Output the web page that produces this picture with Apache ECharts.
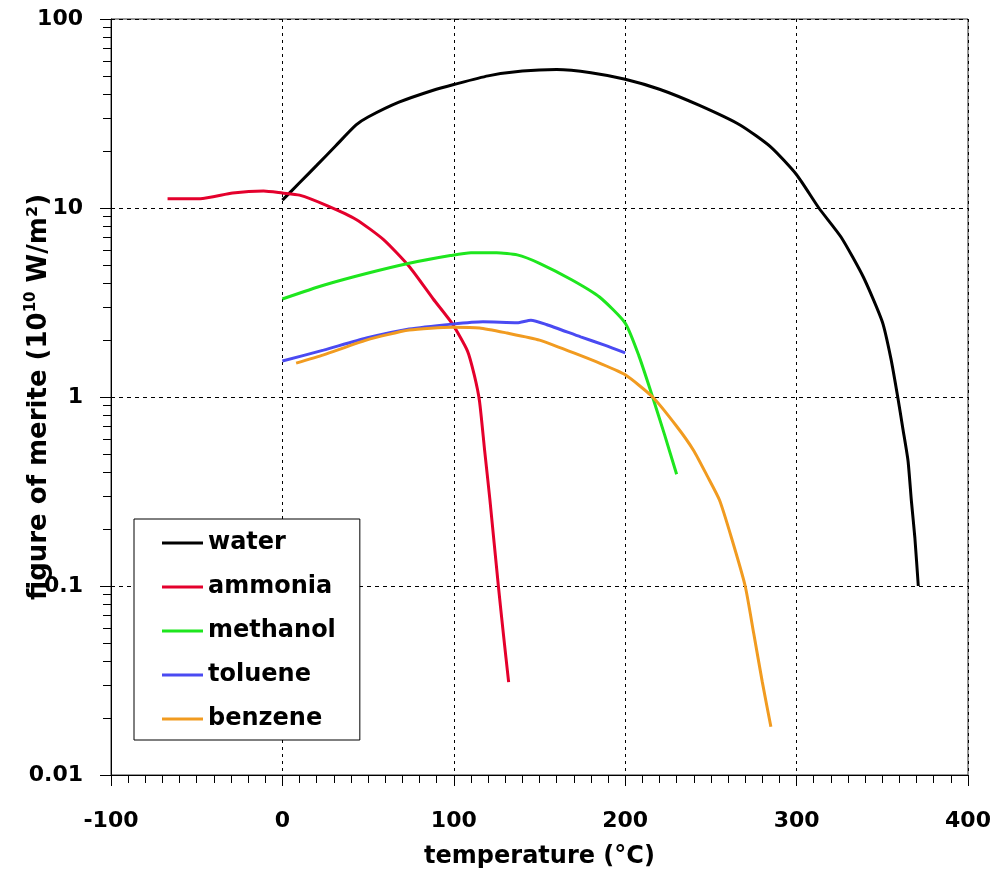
<!DOCTYPE html>
<html>
<head>
<meta charset="UTF-8">
<title>figure of merite</title>
<script src="https://cdn.jsdelivr.net/npm/echarts@6/dist/echarts.min.js"></script>
<style>
  html, body { margin: 0; padding: 0; background: #fff; }
  #main { width: 1002px; height: 886px; }
</style>
</head>
<body>
<div id="main"></div>
<script>
// temperature (°C) , figure of merite (1e10 W/m2)
var water = [[0, 11], [10, 13.6], [20, 16.8], [31, 21.3], [43, 27.5], [50, 30.3], [68, 36.3], [88, 42], [100, 45],
  [120, 50], [140, 53], [160, 54], [180, 52], [200, 48], [220, 42.5], [243, 35], [267, 27.5], [285, 21],
  [300, 15], [313, 10], [326, 7], [339, 4.3], [350, 2.5], [355, 1.6], [359, 1], [362, 0.68],
  [365, 0.46], [367, 0.28], [369, 0.18], [371, 0.1]];
var ammonia = [[-67, 11.2], [-48, 11.2], [-29, 12], [-11, 12.3], [0, 12], [10, 11.7], [26, 10.3],
  [43, 8.7], [59, 6.8], [74, 4.9], [88, 3.3], [99, 2.45], [108, 1.75], [112, 1.3], [115, 0.95],
  [118, 0.52], [121, 0.29], [126, 0.1], [129, 0.055], [132, 0.031]];
var methanol = [[0, 3.3], [24, 3.9], [49, 4.5], [74, 5.1], [98, 5.6], [110, 5.8], [125, 5.8],
  [137, 5.65], [150, 5.1], [169, 4.16], [185, 3.38], [200, 2.46], [208, 1.65], [216, 1],
  [223, 0.63], [230, 0.39]];
var toluene = [[0, 1.55], [24, 1.77], [49, 2.05], [74, 2.29], [99, 2.43], [117, 2.5], [137, 2.47],
  [145, 2.55], [154, 2.42], [174, 2.08], [188, 1.88], [200, 1.71]];
var benzene = [[8, 1.51], [24, 1.67], [49, 2.0], [74, 2.26], [99, 2.34], [115, 2.32], [131, 2.18],
  [150, 2.0], [170, 1.71], [185, 1.51], [200, 1.31], [216, 1.0], [230, 0.7], [240, 0.52],
  [248, 0.38], [255, 0.285], [262, 0.18], [270, 0.1], [275, 0.056], [280, 0.031], [285, 0.018]];

var xTicks = [-100, 0, 100, 200, 300, 400];
var yMinorTicks = [0.02, 0.03, 0.04, 0.05, 0.06, 0.07, 0.08, 0.09,
  0.2, 0.3, 0.4, 0.5, 0.6, 0.7, 0.8, 0.9,
  2, 3, 4, 5, 6, 7, 8, 9,
  20, 30, 40, 50, 60, 70, 80, 90];

var font = 'DejaVu Sans';
var myChart = echarts.init(document.getElementById('main'));

function line(name, data, color) {
  return {
    name: name,
    type: 'line',
    data: data,
    symbol: 'none',
    smooth: 0.2,
    lineStyle: { color: color, width: 3 },
    itemStyle: { color: color }
  };
}

var option = {
  backgroundColor: '#ffffff',
  animation: false,
  grid: {
    left: 111, right: 34, top: 19, bottom: 111,
    outerBoundsMode: 'none',
    containLabel: false,
    show: true, borderColor: '#333', borderWidth: 1
  },
  legend: {
    orient: 'vertical',
    left: 134, top: 519,
    padding: [12, 24, 9, 28],
    itemGap: 20,
    itemWidth: 41,
    itemHeight: 3,
    icon: 'rect',
    borderColor: '#000', borderWidth: 1,
    backgroundColor: '#fff',
    textStyle: { fontFamily: font, fontWeight: 'bold', fontSize: 24, lineHeight: 24, color: '#000' },
    data: ['water', 'ammonia', 'methanol', 'toluene', 'benzene']
  },
  xAxis: {
    type: 'value',
    min: xTicks[0], max: xTicks[xTicks.length - 1], interval: 100,
    name: 'temperature (°C)',
    nameLocation: 'middle',
    nameGap: 70,
    nameMoveOverlap: false,
    nameTextStyle: { fontFamily: font, fontWeight: 'bold', fontSize: 24, color: '#000' },
    axisLine: { onZero: false, lineStyle: { color: '#000', width: 1 } },
    axisTick: { length: 11, lineStyle: { color: '#000' } },
    minorTick: { show: true, splitNumber: 10, length: 8, lineStyle: { color: '#000' } },
    axisLabel: { margin: 35, fontFamily: font, fontWeight: 'bold', fontSize: 22, color: '#000' },
    splitLine: { show: true, lineStyle: { color: '#000', type: [3, 4], width: 1 } }
  },
  yAxis: [{
    type: 'log',
    logBase: 10,
    min: 0.01, max: 100,
    name: '{a|figure of merite (10}{s|10}{a| W/m²)}',
    nameLocation: 'middle',
    nameGap: 57,
    nameMoveOverlap: false,
    nameTextStyle: {
      color: '#000',
      rich: {
        a: { fontFamily: font, fontWeight: 'bold', fontSize: 26, color: '#000', lineHeight: 30 },
        s: { fontFamily: font, fontWeight: 'bold', fontSize: 15, color: '#000', verticalAlign: 'top', lineHeight: 30 }
      }
    },
    axisLine: { show: true, onZero: false, lineStyle: { color: '#000', width: 1 } },
    axisTick: { length: 11, lineStyle: { color: '#000' } },
    axisLabel: { margin: 28, fontFamily: font, fontWeight: 'bold', fontSize: 22, color: '#000' },
    splitLine: { show: true, lineStyle: { color: '#000', type: [4, 4], width: 1 } }
  }, {
    type: 'log',
    logBase: 10,
    min: 0.01, max: 100,
    position: 'left',
    axisLine: { show: false, onZero: false },
    axisLabel: { show: false },
    splitLine: { show: false },
    axisTick: { show: true, length: 8, customValues: yMinorTicks, lineStyle: { color: '#000' } }
  }],
  series: [
    line('water', water, '#000000'),
    line('ammonia', ammonia, '#e4002c'),
    line('methanol', methanol, '#1ee61e'),
    line('toluene', toluene, '#4a4af2'),
    line('benzene', benzene, '#f19b20')
  ]
};

myChart.setOption(option);
</script>
</body>
</html>
